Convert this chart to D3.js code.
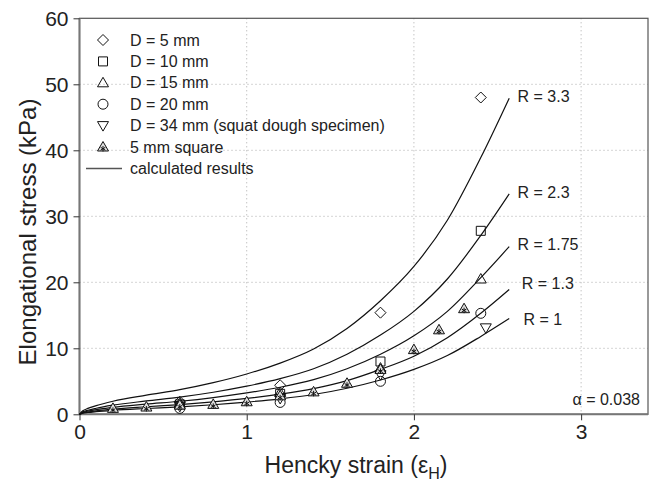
<!DOCTYPE html>
<html>
<head>
<meta charset="utf-8">
<script src="https://cdn.jsdelivr.net/npm/d3@7"></script>
<style>
  body { margin: 0; background: #fff; }
  text { font-family: "Liberation Sans", Arial, sans-serif; fill: #222; }
</style>
</head>
<body>
<div id="chart"></div>
<script>
// calculated curves
var calcStrain = [0, 0.02, 0.05, 0.1, 0.2, 0.4, 0.6, 0.8, 1.0, 1.2, 1.4, 1.6, 1.8, 2.0, 2.2, 2.4, 2.57];
var calcR33 = [0, 0.53, 0.89, 1.32, 1.98, 2.9, 3.73, 4.79, 6.1, 7.76, 9.9, 13.0, 17.2, 22.4, 29.4, 38.9, 47.9];
var calcR23 = [0, 0.37, 0.62, 0.92, 1.38, 2.02, 2.6, 3.34, 4.26, 5.4, 6.9, 9.1, 12.0, 15.6, 20.5, 27.1, 33.4];
var calcR175 = [0, 0.28, 0.47, 0.7, 1.05, 1.54, 1.98, 2.54, 3.24, 4.1, 5.25, 6.9, 9.1, 11.9, 15.6, 20.7, 25.4];
var calcR13 = [0, 0.21, 0.35, 0.52, 0.78, 1.14, 1.47, 1.89, 2.4, 3.06, 3.9, 5.1, 6.8, 8.8, 11.6, 15.3, 18.9];
var calcR1 = [0, 0.16, 0.27, 0.4, 0.6, 0.88, 1.13, 1.45, 1.85, 2.35, 3.0, 3.95, 5.2, 6.8, 8.9, 11.8, 14.5];
var curveLabels = ["R = 3.3", "R = 2.3", "R = 1.75", "R = 1.3", "R = 1"];
var curveLabelX = [2.62, 2.62, 2.62, 2.645, 2.655];
var curveLabelY = [48.1, 33.6, 25.7, 19.9, 14.4];

// measured points
var d5Strain = [0.6, 1.2, 1.8, 2.4];
var d5Stress = [1.9, 4.4, 15.4, 48.0];
var d10Strain = [0.6, 1.2, 1.8, 2.4];
var d10Stress = [1.5, 3.1, 8.0, 27.8];
var d15Strain = [0.6, 1.2, 1.8, 2.4];
var d15Stress = [1.7, 3.3, 7.0, 20.5];
var d20Strain = [0.6, 1.2, 1.8, 2.4];
var d20Stress = [0.9, 1.8, 5.0, 15.3];
var d34Strain = [0.6, 1.2, 1.8, 2.43];
var d34Stress = [1.2, 2.4, 6.0, 13.1];
var sqStrain = [0.2, 0.4, 0.6, 0.8, 1.0, 1.2, 1.4, 1.6, 1.8, 2.0, 2.15, 2.3];
var sqStress = [0.9, 1.1, 1.4, 1.5, 1.9, 2.8, 3.4, 4.7, 6.8, 9.8, 12.8, 16.0];

var legendLabels = ["D = 5 mm", "D = 10 mm", "D = 15 mm", "D = 20 mm",
  "D = 34 mm (squat dough specimen)", "5 mm square", "calculated results"];

var xTicks = [0, 1, 2, 3];
var yTicks = [0, 10, 20, 30, 40, 50, 60];

var width = 650, height = 483;
var plotLeft = 79.5, plotRight = 648, plotTop = 18.3, plotBottom = 414.3;

var svg = d3.select("#chart").append("svg")
    .attr("width", width)
    .attr("height", height);

var x = d3.scaleLinear().domain([0, 3.4]).range([plotLeft, plotRight]);
var y = d3.scaleLinear().domain([0, 60]).range([plotBottom, plotTop]);

// dotted grid
svg.append("g")
    .selectAll("line")
    .data(xTicks.filter(d => d > 0))
    .enter()
    .append("line")
    .attr("x1", d => x(d)).attr("x2", d => x(d))
    .attr("y1", plotTop).attr("y2", plotBottom)
    .attr("stroke", "#aaa").attr("stroke-dasharray", "1,3");

svg.append("g")
    .selectAll("line")
    .data(yTicks.filter(d => d > 0 && d < 60))
    .enter()
    .append("line")
    .attr("x1", plotLeft).attr("x2", plotRight)
    .attr("y1", d => y(d)).attr("y2", d => y(d))
    .attr("stroke", "#aaa").attr("stroke-dasharray", "1,3");

// frame
svg.append("rect")
    .attr("x", plotLeft).attr("y", plotTop)
    .attr("width", plotRight - plotLeft).attr("height", plotBottom - plotTop)
    .attr("fill", "none").attr("stroke", "#555").attr("stroke-width", 1.2);

svg.append("line")
    .attr("x1", plotLeft).attr("x2", plotLeft).attr("y1", plotTop).attr("y2", plotBottom)
    .attr("stroke", "#777").attr("stroke-width", 2);
svg.append("line")
    .attr("x1", plotLeft).attr("x2", plotRight).attr("y1", plotBottom).attr("y2", plotBottom)
    .attr("stroke", "#777").attr("stroke-width", 2);

// axes
var xAxis = svg.append("g")
    .attr("transform", "translate(0," + plotBottom + ")")
    .call(d3.axisBottom(x).tickValues(xTicks).tickSize(6).tickPadding(4).tickFormat(d3.format("d")));
var yAxis = svg.append("g")
    .attr("transform", "translate(" + plotLeft + ",0)")
    .call(d3.axisLeft(y).tickValues(yTicks).tickSize(6).tickPadding(5).tickFormat(d3.format("d")));

[xAxis, yAxis].forEach(function (g) {
    g.select(".domain").remove();
    g.selectAll(".tick line").attr("stroke", "#333");
    g.selectAll(".tick text")
        .style("font-family", "'Liberation Sans', Arial, sans-serif")
        .style("font-size", "21px")
        .attr("fill", "#222");
});

// axis titles
var xTitle = svg.append("text")
    .attr("x", 356)
    .attr("y", 473)
    .attr("text-anchor", "middle")
    .style("font-size", "23px");
xTitle.append("tspan").text("Hencky strain (ε");
xTitle.append("tspan").text("H").attr("dy", 6).style("font-size", "16px");
xTitle.append("tspan").text(")").attr("dy", -6);

svg.append("text")
    .attr("transform", "translate(36,232) rotate(-90)")
    .attr("text-anchor", "middle")
    .style("font-size", "24px")
    .text("Elongational stress (kPa)");

// calculated curves
var line = d3.line()
    .x(d => x(d[0]))
    .y(d => y(d[1]))
    .curve(d3.curveMonotoneX);

var curves = [calcR33, calcR23, calcR175, calcR13, calcR1];
svg.append("g")
    .selectAll("path")
    .data(curves)
    .enter()
    .append("path")
    .attr("d", c => line(calcStrain.map((s, i) => [s, c[i]])))
    .attr("fill", "none")
    .attr("stroke", "#111")
    .attr("stroke-width", 1.2);

svg.append("g")
    .selectAll("text")
    .data(curveLabels)
    .enter()
    .append("text")
    .attr("x", (d, i) => x(curveLabelX[i]))
    .attr("y", (d, i) => y(curveLabelY[i]))
    .attr("dy", "0.35em")
    .style("font-size", "16px")
    .text(d => d);

svg.append("text")
    .attr("x", 640)
    .attr("y", 405)
    .attr("text-anchor", "end")
    .style("font-size", "16px")
    .text("α = 0.038");

// marker shapes
function shape(type) {
    if (type === "diamond") return "M0,-5.5L5.5,0L0,5.5L-5.5,0Z";
    if (type === "square") return "M-4.5,-4.5H4.5V4.5H-4.5Z";
    if (type === "up") return "M0,-5.5L5.5,4L-5.5,4Z";
    if (type === "down") return "M0,5.5L5.5,-4L-5.5,-4Z";
    if (type === "circle") return "M5,0A5,5 0 1,1 -5,0A5,5 0 1,1 5,0Z";
    if (type === "star") return "M0,-5.5L5.5,4L-5.5,4Z M0,-1V4.5 M-2.4,0.3L2.4,3.2 M2.4,0.3L-2.4,3.2";
}

var seriesList = [
    { type: "diamond", xs: d5Strain, ys: d5Stress },
    { type: "square", xs: d10Strain, ys: d10Stress },
    { type: "up", xs: d15Strain, ys: d15Stress },
    { type: "circle", xs: d20Strain, ys: d20Stress },
    { type: "down", xs: d34Strain, ys: d34Stress },
    { type: "star", xs: sqStrain, ys: sqStress }
];

seriesList.forEach(function (s) {
    svg.append("g")
        .selectAll("path")
        .data(s.xs.map((v, i) => [v, s.ys[i]]))
        .enter()
        .append("path")
        .attr("d", shape(s.type))
        .attr("transform", d => "translate(" + x(d[0]) + "," + y(d[1]) + ")")
        .attr("fill", s.type === "star" ? "#ddd" : "#fff")
        .attr("fill-opacity", s.type === "star" ? 1 : 0)
        .attr("stroke", "#111")
        .attr("stroke-width", 1);
});

// legend
var legend = svg.append("g");
var rowY = d => 40 + d * 21.4;

legendLabels.forEach(function (lab, i) {
    if (i < 6) {
        legend.append("path")
            .attr("d", shape(seriesList[i].type))
            .attr("transform", "translate(103," + rowY(i) + ")")
            .attr("fill", seriesList[i].type === "star" ? "#ddd" : "none")
            .attr("stroke", "#111")
            .attr("stroke-width", 1);
    } else {
        legend.append("line")
            .attr("x1", 86).attr("x2", 122)
            .attr("y1", rowY(i)).attr("y2", rowY(i))
            .attr("stroke", "#555").attr("stroke-width", 1.5);
    }
    legend.append("text")
        .attr("x", 130)
        .attr("y", rowY(i))
        .attr("dy", "0.35em")
        .style("font-size", "16px")
        .text(lab);
});
</script>
</body>
</html>
